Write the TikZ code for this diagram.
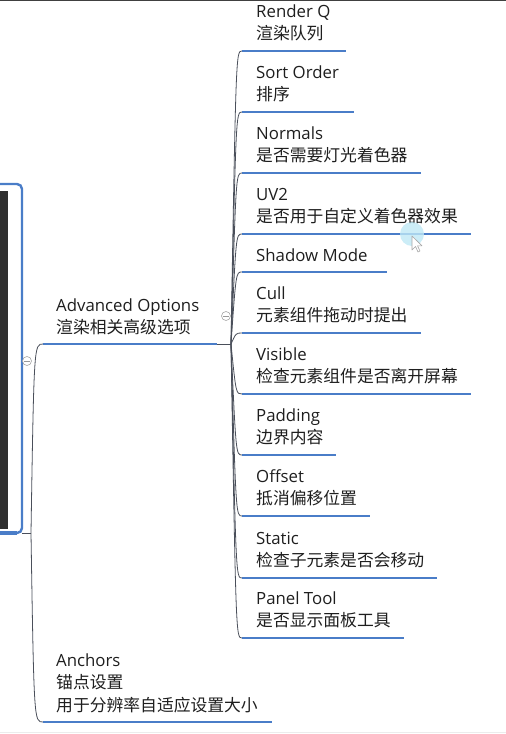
\documentclass[tikz,border=0pt]{standalone}
\usepackage{fontspec}
\setmainfont{Open Sans}
\newfontfamily\cjk{Noto Sans CJK SC}
\definecolor{ublue}{HTML}{4A7DC8}
\definecolor{ink}{HTML}{1E1E1E}
\definecolor{connc}{HTML}{4A4F5A}
\definecolor{darkbar}{HTML}{2F2F2F}
\definecolor{glow}{HTML}{BFE8F5}
\begin{document}
\begin{tikzpicture}[x=1pt,y=-1pt,
  lbl/.style={anchor=base west,inner sep=0pt,font=\fontsize{16.8pt}{20pt}\selectfont,text=ink},
  zh/.style={anchor=base west,inner sep=0pt,font=\cjk\fontsize{16.8pt}{20pt}\selectfont,text=ink},
  uline/.style={draw=ublue,line width=2.6pt},
  connl/.style={draw=connc,line width=0.8pt},
  fold/.style={circle,draw=gray!70,fill=white,minimum size=9pt,inner sep=0pt,line width=0.6pt}]
\useasboundingbox (0,0) rectangle (506,734);
% frame lines of the screenshot
\draw[black!75,line width=1.2pt] (0,0.6) -- (506,0.6);
\draw[gray!15,line width=1pt] (0,732) -- (506,732);
% left framed dark panel
\fill[darkbar] (0,191) rectangle (8,529);
\draw[ublue,line width=2.4pt,rounded corners=5pt] (-3,184) -- (22,184) -- (22,533) -- (-3,533);
\draw[ublue,line width=4pt] (0,533) -- (17,533);
% root hub
\coordinate (hubL0) at (22,533);
\coordinate (hubL) at (31,533);
\draw[connl] (hubL0) -- (hubL);
% Advanced Options
\coordinate (advS) at (43,344);
\coordinate (advE) at (217,344);
\node[lbl] (advT) at (56,311) {Advanced Options};
\node[zh] (advC) at (56,333) {渲染相关高级选项};
\draw[uline] (advS) -- (advE);
\draw[connl] (hubL) .. controls (34,344) and (34,344) .. (advS);
% Anchors
\coordinate (ancS) at (43,722);
\coordinate (ancE) at (272,722);
\node[lbl] (ancT) at (56,666) {Anchors};
\node[zh] (ancC1) at (56,688.5) {锚点设置};
\node[zh] (ancC2) at (56,711) {用于分辨率自适应设置大小};
\draw[uline] (ancS) -- (ancE);
\draw[connl] (hubL) .. controls (34,722) and (34,722) .. (ancS);
% right hub
\coordinate (hubR) at (231,344);
\draw[connl] (advE) -- (hubR);
% children
\foreach \n/\u/\e/\t/\c in {
  1/51/346/Render Q/渲染队列,
  2/112/354/Sort Order/排序,
  3/173/421/Normals/是否需要灯光着色器,
  4/234/471/UV2/是否用于自定义着色器效果,
  6/333/421/Cull/元素组件拖动时提出,
  7/394/471/Visible/检查元素组件是否离开屏幕,
  8/455/336/Padding/边界内容,
  9/516/370/Offset/抵消偏移位置,
  10/578/437/Static/检查子元素是否会移动,
  11/638/404/Panel Tool/是否显示面板工具}{
  \coordinate (s\n) at (242,\u);
  \coordinate (e\n) at (\e,\u);
  \node[lbl] (t\n) at (256,\u-34) {\t};
  \node[zh] (c\n) at (256,\u-11.5) {\c};
  \draw[uline] (s\n) -- (e\n);
  \draw[connl] (hubR) .. controls (236,\u) and (236,\u) .. (s\n);
}
% Shadow Mode (single line)
\coordinate (s5) at (242,272);
\coordinate (e5) at (387,272);
\node[lbl] (t5) at (256,261) {Shadow Mode};
\draw[uline] (s5) -- (e5);
\draw[connl] (hubR) .. controls (236,272) and (236,272) .. (s5);
% fold buttons
\node[fold] (foldR) at (226,316) {};
\draw[gray!80,line width=0.6pt] ([xshift=2pt]foldR.west) -- ([xshift=-2pt]foldR.east);
\node[fold] (foldL) at (27,361) {};
\draw[gray!80,line width=0.6pt] ([xshift=2pt]foldL.west) -- ([xshift=-2pt]foldL.east);
% mouse cursor with highlight
\fill[glow,opacity=0.8] (412,234) circle (12);
\draw[gray!70,fill=white,line width=0.6pt,line join=round]
  (412,236) -- (412,250) -- (415.5,246.5) -- (418,252) -- (420,251) -- (417.5,245.8) -- (422,245.8) -- cycle;
\end{tikzpicture}
\end{document}
